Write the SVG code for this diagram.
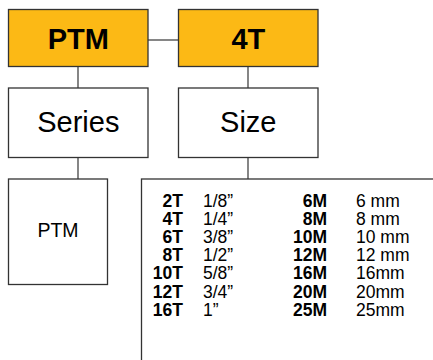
<svg xmlns="http://www.w3.org/2000/svg" width="433" height="360" viewBox="0 0 433 360">
<style>
.box{stroke:#333;stroke-width:1.3;}
.hd{fill:#FCB915;}
.wh{fill:#fff;}
.ln{stroke:#444;stroke-width:1.3;fill:none;}
text{font-family:"Liberation Sans",Arial,Helvetica,sans-serif;fill:#000;}
.big{font-size:29px;text-anchor:middle;}
.b{font-weight:bold;}
.t{font-size:17.5px;}
.r{text-anchor:end;font-weight:bold;}
</style>
<rect width="433" height="360" fill="#fff"/>
<g id="connectors">
<line class="ln" x1="148" y1="40" x2="178" y2="40"/>
<line class="ln" x1="78" y1="66" x2="78" y2="88"/>
<line class="ln" x1="248" y1="66" x2="248" y2="88"/>
<line class="ln" x1="78" y1="157" x2="78" y2="179"/>
<line class="ln" x1="248" y1="157" x2="248" y2="180"/>
</g>
<g id="node-ptm">
<rect class="box hd" x="8.5" y="9.5" width="139.5" height="57"/>
<text class="big b" x="78.3" y="49.3">PTM</text>
</g>
<g id="node-4t">
<rect class="box hd" x="178.5" y="9.5" width="139.5" height="57"/>
<text class="big b" x="248.3" y="49.3">4T</text>
</g>
<g id="node-series">
<rect class="box wh" x="8.5" y="88" width="139.5" height="69.5"/>
<text class="big" x="78.3" y="131.5">Series</text>
</g>
<g id="node-size">
<rect class="box wh" x="178.5" y="88" width="139.5" height="69.5"/>
<text class="big" x="248.3" y="131.5">Size</text>
</g>
<g id="node-ptm-value">
<rect class="box wh" x="8.5" y="179" width="99" height="105.5"/>
<text x="58" y="236.5" style="font-size:19.5px;text-anchor:middle">PTM</text>
</g>
<g id="node-size-values">
<rect class="box wh" x="141.5" y="179" width="320" height="220"/>
<text class="t r" x="183" y="206.5">2T</text>
<text class="t" x="203" y="206.5">1/8”</text>
<text class="t r" x="183" y="224.7">4T</text>
<text class="t" x="203" y="224.7">1/4”</text>
<text class="t r" x="183" y="242.9">6T</text>
<text class="t" x="203" y="242.9">3/8”</text>
<text class="t r" x="183" y="261.1">8T</text>
<text class="t" x="203" y="261.1">1/2”</text>
<text class="t r" x="183" y="279.3">10T</text>
<text class="t" x="203" y="279.3">5/8”</text>
<text class="t r" x="183" y="297.5">12T</text>
<text class="t" x="203" y="297.5">3/4”</text>
<text class="t r" x="183" y="315.7">16T</text>
<text class="t" x="203" y="315.7">1”</text>
<text class="t r" x="327" y="206.5">6M</text>
<text class="t" x="356" y="206.5">6 mm</text>
<text class="t r" x="327" y="224.7">8M</text>
<text class="t" x="356" y="224.7">8 mm</text>
<text class="t r" x="327" y="242.9">10M</text>
<text class="t" x="356" y="242.9">10 mm</text>
<text class="t r" x="327" y="261.1">12M</text>
<text class="t" x="356" y="261.1">12 mm</text>
<text class="t r" x="327" y="279.3">16M</text>
<text class="t" x="356" y="279.3">16mm</text>
<text class="t r" x="327" y="297.5">20M</text>
<text class="t" x="356" y="297.5">20mm</text>
<text class="t r" x="327" y="315.7">25M</text>
<text class="t" x="356" y="315.7">25mm</text>
</g>
</svg>
